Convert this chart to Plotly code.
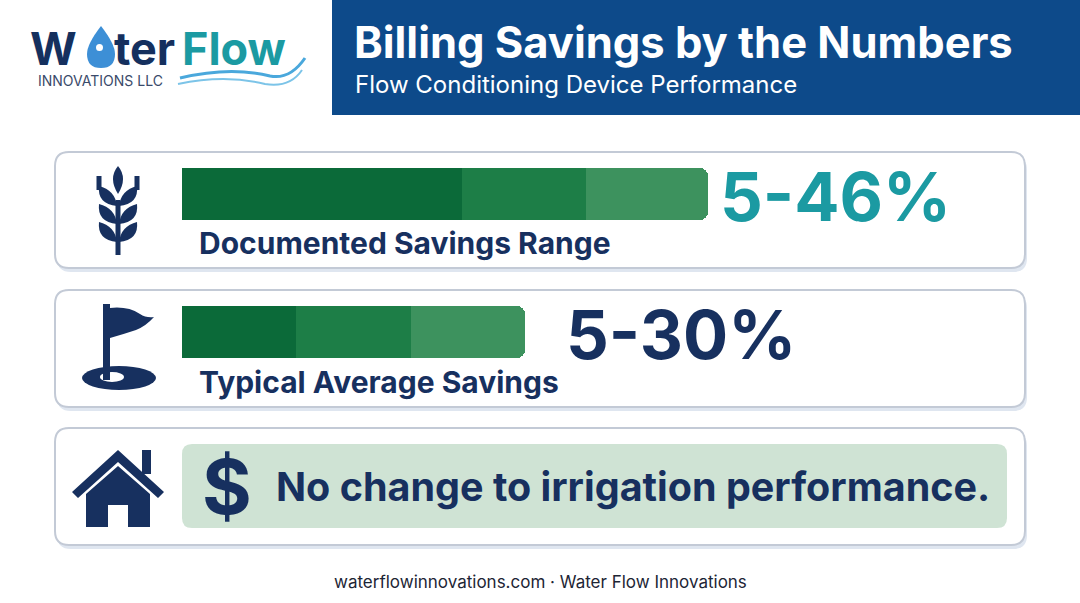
import plotly.graph_objects as go

title = "Billing Savings by the Numbers"
subtitle = "Flow Conditioning Device Performance"
metric_labels = ["Documented Savings Range", "Typical Average Savings"]
metric_values = ["5-46%", "5-30%"]
range_segments = [24.5, 10.8, 10.7]   # total 46
avg_segments = [10.0, 10.0, 10.0]     # total 30
seg_colors = ["#0b6a39", "#1d7e47", "#3d925e"]
statement = "No change to irrigation performance."
footer = "waterflowinnovations.com · Water Flow Innovations"

NAVY = "#17305f"
TEAL = "#1b9aa2"
FONT = "Inter"

fig = go.Figure()

def rr(x0, y0, x1, y1, r):
    return (f"M{x0+r},{y0} L{x1-r},{y0} Q{x1},{y0} {x1},{y0+r} L{x1},{y1-r} Q{x1},{y1} {x1-r},{y1} "
            f"L{x0+r},{y1} Q{x0},{y1} {x0},{y1-r} L{x0},{y0+r} Q{x0},{y0} {x0+r},{y0} Z")

shapes = []
shapes.append(dict(type="rect", x0=332, x1=1080, y0=0, y1=115, fillcolor="#0d4a8a", line_width=0, layer="below"))
for (y0, y1) in [(152, 268), (290, 407), (428, 545)]:
    shapes.append(dict(type="path", path=rr(57, y0+4, 1027, y1+4, 14), fillcolor="#dfe6f0", line_width=0, layer="below"))
    shapes.append(dict(type="path", path=rr(55, y0, 1025, y1, 14), fillcolor="white",
                       line=dict(color="#c3cad6", width=2), layer="below"))
shapes.append(dict(type="path", path=rr(182, 444, 1007, 528, 10), fillcolor="#cfe3d4", line_width=0, layer="below"))
# rounded left caps under bars
shapes.append(dict(type="path", path=rr(182, 168, 230, 220, 8), fillcolor=seg_colors[0], line_width=0, layer="below"))
shapes.append(dict(type="path", path=rr(182, 306, 230, 358, 8), fillcolor=seg_colors[0], line_width=0, layer="below"))

# wheat icon
shapes.append(dict(type="line", x0=118, x1=118, y0=200, y1=255, line=dict(color=NAVY, width=5)))
def leaf(cx, cy, side):
    return dict(type="path",
                path=f"M{cx},{cy+10} Q{cx+side*20},{cy+8} {cx+side*18},{cy-10} Q{cx+side*2},{cy-6} {cx},{cy+10} Z",
                fillcolor=NAVY, line_width=0)
for cy in [196, 214, 232]:
    shapes.append(leaf(117, cy, -1))
    shapes.append(leaf(119, cy, 1))
shapes.append(dict(type="path", path="M118,166 Q108,178 118,194 Q128,178 118,166 Z", fillcolor=NAVY, line_width=0))
shapes.append(dict(type="path", path="M99,176 L99,190 M137,176 L137,190", line=dict(color=NAVY, width=5)))
# flag icon
shapes.append(dict(type="circle", x0=82, x1=156, y0=366, y1=390, fillcolor=NAVY, line_width=0))
shapes.append(dict(type="circle", x0=100, x1=124, y0=372, y1=382, fillcolor="white", line_width=0))
shapes.append(dict(type="rect", x0=103, x1=110, y0=304, y1=380, fillcolor=NAVY, line_width=0))
shapes.append(dict(type="path", path="M110,308 Q128,306 140,314 Q146,318 154,317 Q146,326 136,330 Q124,334 110,338 Z",
                   fillcolor=NAVY, line_width=0))
# house icon
shapes.append(dict(type="path", path="M72,492 L118,450 L164,492 L158,498 L118,462 L78,498 Z", fillcolor=NAVY, line_width=0))
shapes.append(dict(type="rect", x0=142, x1=151, y0=450, y1=474, fillcolor=NAVY, line_width=0))
shapes.append(dict(type="path", path="M86,494 L118,466 L150,494 L150,527 L128,527 L128,505 L108,505 L108,527 L86,527 Z",
                   fillcolor=NAVY, line_width=0))
# logo drop and waves
shapes.append(dict(type="path", path="M101,26 Q87,44 87,54 Q87,68 101,68 Q115,68 115,54 Q115,44 101,26 Z", fillcolor="#3d8fd6", line_width=0))
shapes.append(dict(type="circle", x0=96, x1=103, y0=44, y1=51, fillcolor="white", line_width=0))
shapes.append(dict(type="path", path="M180,78 Q230,66 270,76 Q290,80 305,58", line=dict(color="#4aa8dc", width=3)))
shapes.append(dict(type="path", path="M178,84 Q225,74 265,84 Q290,88 302,70", line=dict(color="#7cc4e8", width=2)))
fig.update_layout(shapes=shapes)

for yc, segs in [(194, range_segments), (332, avg_segments)]:
    for i, s in enumerate(segs):
        fig.add_trace(go.Bar(x=[s], y=[yc], orientation="h", width=52,
                             marker=dict(color=seg_colors[i], line_width=0),
                             xaxis="x2", yaxis="y", showlegend=False, hoverinfo="skip"))

ann = []
def t(x, y, s, size, color, bold=True, anchor="left", family=FONT):
    txt = f"<b>{s}</b>" if bold else s
    ann.append(dict(x=x, y=y, xref="x", yref="y", text=txt, showarrow=False, xanchor=anchor, yanchor="middle",
                    font=dict(size=size, color=color, family=family)))

t(352, 42, title, 43.5, "white")
t(353, 84, subtitle, 24, "white", bold=False)
t(28, 48, "W", 45, "#15305e")
t(112, 48, "ter", 45, "#15305e")
t(180, 48, "Flow", 45, TEAL)
t(36, 80, "INNOVATIONS LLC", 14, "#3a4a6a", bold=False)
t(718, 196, metric_values[0], 67, TEAL)
t(564, 334, metric_values[1], 67, NAVY)
t(197, 243, metric_labels[0], 30, NAVY)
t(197, 382, metric_labels[1], 30, NAVY)
t(200, 486, "$", 76, NAVY)
t(274, 487, statement, 39.5, NAVY)
t(540, 582, footer, 17, "#1d2535", bold=False, anchor="center")
fig.update_layout(annotations=ann)

fig.update_layout(
    width=1080, height=603, margin=dict(l=0, r=0, t=0, b=0),
    paper_bgcolor="white", plot_bgcolor="rgba(0,0,0,0)", barmode="stack",
    xaxis=dict(range=[0, 1080], visible=False, fixedrange=True),
    yaxis=dict(range=[603, 0], visible=False, fixedrange=True),
    xaxis2=dict(domain=[182/1080, 708/1080], range=[0, 46], visible=False, anchor="y", fixedrange=True),
)
fig.update_traces(marker_cornerradius=8)
fig.write_html("out.html", config={"displayModeBar": False},
               post_script="document.body.style.margin='0';")
